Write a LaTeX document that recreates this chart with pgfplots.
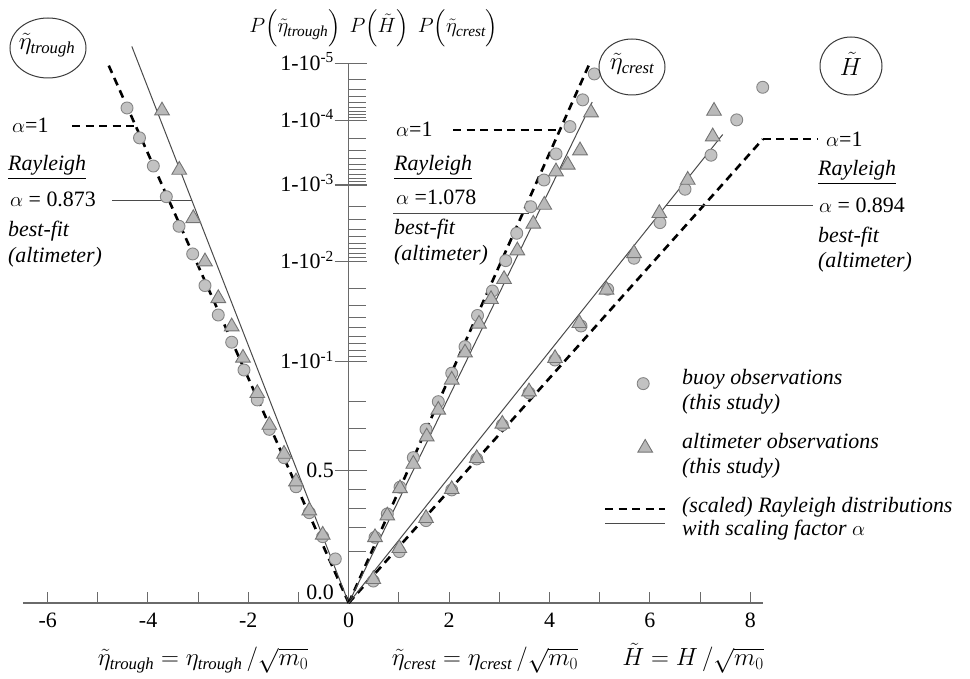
\documentclass[border=0pt]{standalone}
\usepackage{fontspec}
\setmainfont{Liberation Serif}
\usepackage{amsmath}
\usepackage{pgfplots}
\pgfplotsset{compat=1.18}

\definecolor{axisgray}{HTML}{6A6A6A}
\definecolor{circfill}{HTML}{C2C2C2}
\definecolor{circedge}{HTML}{858585}
\definecolor{trifill}{HTML}{B9B9B9}
\definecolor{triedge}{HTML}{747474}
\definecolor{fitgray}{HTML}{4A4A4A}
\definecolor{ringgray}{HTML}{3A3A3A}

\newcommand{\chartfont}{\fontsize{22}{25}\selectfont}
\newcommand{\titlefont}{\fontsize{24}{27}\selectfont}

\pgfplotsset{
  buoy/.style={only marks, mark=*, mark size=6bp,
    mark options={fill=circfill, draw=circedge, line width=0.9bp}},
  alti/.style={only marks, mark=triangle*, mark size=8.5bp,
    mark options={fill=trifill, draw=triedge, line width=0.9bp}},
  % legend samples: 60bp wide cell, the sample itself does not change the row height
  markleg/.style={legend image code/.code={%
    \path[draw=none] (0bp,0bp) -- (60bp,0bp);
    \draw[##1, overlay] plot coordinates {(#1)};}},
  lineleg/.style={legend image code/.code={%
    \path[draw=none] (0bp,0bp) -- (60bp,0bp);
    \draw[##1, overlay] (0bp,#1) -- (60bp,#1);}},
}
\tikzset{
  rayleigh/.style={black, line width=2.6bp, dash pattern=on 8bp off 5.5bp},
  bestfit/.style={fitgray, line width=1bp},
}
\newcommand{\twoline}[2]{\begin{tabular}{@{}l@{}}#1\\#2\end{tabular}}

\begin{document}
\begin{tikzpicture}
\begin{axis}[
  at={(0,0)}, anchor=south west,
  scale only axis, width=970bp, height=679bp,
  xmin=-6.946, xmax=12.376, ymin=-0.478, ymax=3.792,
  hide axis, clip=false,
  legend style={draw=none, fill=none, at={(0.6237,0.4602)}, anchor=north west,
    font=\chartfont\itshape, column sep=17bp, row sep=15bp, inner sep=0pt,
    nodes={inner sep=0pt, text depth=, text height=}},
  legend cell align=left,
]
% legend
\addlegendimage{buoy, markleg={38bp,8bp}}
\addlegendentry{\twoline{buoy observations}{(this study)}}
\addlegendimage{alti, markleg={40bp,8.5bp}}
\addlegendentry{\twoline{altimeter observations}{(this study)}}
\addlegendimage{rayleigh, lineleg=-4.25bp}
\addlegendentry{\raisebox{0pt}[16.5bp][0bp]{(scaled) Rayleigh distributions}}
\addlegendimage{bestfit, lineleg=8bp}
\addlegendentry{\raisebox{0pt}[8bp][0bp]{with scaling factor $\alpha$}}

% axis lines and ticks (Rayleigh probability scale: y = sqrt(-ln(1-P)))
\draw[axisgray, line width=1.6bp] (axis cs:-6.49,0) -- (axis cs:8.25,0);
\draw[axisgray, line width=1.2bp] (axis cs:0,0) -- (axis cs:0,3.39307);
\pgfplotsinvokeforeach{-6,-5,-4,-3,-2,-1,1,2,3,4,5,6,7,8}{
  \draw[axisgray, line width=1.1bp] (axis cs:#1,0) -- ++(0bp,11bp);}
\pgfplotsinvokeforeach{1.26864,1.09726,0.95723,0.71472,0.59722,0.47238,0.32459,
  1.97788,1.87258,1.79412,1.73082,1.67732,1.63073,1.58926,1.55176,
  2.49291,2.41022,2.34978,2.30181,2.26186,2.22752,2.19734,2.17037,
  2.91842,2.84811,2.79715,2.75698,2.72371,2.69526,2.67037,2.64823,
  3.28934,3.22712,3.18224,3.14698,3.11788,3.09306,3.07140,3.05216}{
  \draw[axisgray, line width=1bp] (axis cs:0,#1) -- ++(17bp,0bp);}
\pgfplotsinvokeforeach{0.83256,1.51743,2.14597,2.62826,3.03485,3.39307}{
  \draw[axisgray, line width=1.1bp] (axis cs:0,#1) ++(-14bp,0bp) -- ++(32bp,0bp);}

% Rayleigh (alpha = 1) and best-fit lines
\addplot[forget plot, rayleigh] coordinates {(0,0) (-4.799,3.393)};
\addplot[forget plot, bestfit] coordinates {(0,0) (-4.32,3.50)};
\addplot[forget plot, rayleigh] coordinates {(0,0) (4.799,3.393)};
\addplot[forget plot, bestfit] coordinates {(0,0) (4.85,3.15)};
\addplot[forget plot, rayleigh] coordinates {(0,0) (8.25,2.917)};
\addplot[forget plot, bestfit] coordinates {(0,0) (7.45,2.946)};

% leader lines to the annotations
\draw[rayleigh] (axis cs:-5.51,3.0) -- (axis cs:-4.243,3.0);
\draw[bestfit] (axis cs:-4.715,2.528) -- (axis cs:-3.121,2.528);
\draw[rayleigh] (axis cs:2.08,2.975) -- (axis cs:4.207,2.975);
\draw[bestfit] (axis cs:0.883,2.447) -- (axis cs:3.6,2.447);
\draw[rayleigh] (axis cs:8.25,2.917) -- (axis cs:9.33,2.917);
\draw[bestfit] (axis cs:6.32,2.50) -- (axis cs:9.25,2.50);

% trough: buoy and altimeter
\addplot[forget plot, buoy] coordinates {
  (-4.416,3.113)(-4.167,2.925)(-3.892,2.748)(-3.633,2.555)(-3.380,2.369)
  (-3.108,2.195)(-2.863,1.996)(-2.598,1.811)(-2.331,1.640)(-2.086,1.465)
  (-1.821,1.277)(-1.582,1.092)(-1.289,0.914)(-1.050,0.731)(-0.785,0.568)
  (-0.518,0.417)(-0.267,0.277)};
\addplot[forget plot, alti] coordinates {
  (-3.719,3.096)(-3.375,2.723)(-3.096,2.419)(-2.863,2.147)(-2.598,1.916)
  (-2.331,1.738)(-2.106,1.541)(-1.821,1.319)(-1.582,1.119)(-1.289,0.937)
  (-1.050,0.763)(-0.785,0.581)(-0.518,0.428)};
% crest
\addplot[forget plot, buoy] coordinates {
  (4.892,3.327)(4.661,3.164)(4.408,2.996)(4.130,2.824)(3.890,2.660)
  (3.625,2.492)(3.347,2.325)(3.127,2.153)(2.863,1.962)(2.566,1.808)
  (2.317,1.612)(2.052,1.445)(1.785,1.266)(1.540,1.092)(1.287,0.914)
  (1.022,0.728)(0.769,0.560)(0.524,0.413)};
\addplot[forget plot, alti] coordinates {
  (4.827,3.084)(4.608,2.845)(4.363,2.755)(4.129,2.713)(3.896,2.503)
  (3.677,2.384)(3.359,2.216)(3.094,2.036)(2.835,1.910)(2.596,1.755)
  (2.317,1.574)(2.052,1.403)(1.785,1.214)(1.554,1.046)(1.287,0.874)
  (1.022,0.721)(0.769,0.549)(0.524,0.413)};
% wave height
\addplot[forget plot, buoy] coordinates {
  (8.247,3.243)(7.729,3.038)(7.217,2.816)(6.699,2.602)(6.201,2.392)
  (5.683,2.168)(5.159,1.973)(4.627,1.742)(4.110,1.528)(3.592,1.321)
  (3.060,1.119)(2.550,0.906)(2.052,0.711)(1.540,0.518)(1.008,0.323)
  (0.490,0.138)};
\addplot[forget plot, alti] coordinates {
  (7.277,3.094)(7.251,2.933)(6.753,2.660)(6.187,2.451)(5.683,2.199)
  (5.135,1.969)(4.594,1.759)(4.110,1.539)(3.592,1.329)(3.060,1.126)
  (2.550,0.910)(2.052,0.715)(1.540,0.533)(1.008,0.344)(0.490,0.149)};
\end{axis}

% labels, in picture units (1bp, measured from the top left)
\begin{scope}[shift={(0bp,679bp)}, x=1bp, y=-1bp, font=\chartfont]
  \foreach \xv/\lab in {47.7/-6, 148.1/-4, 248.3/-2, 348.7/0, 449.1/2, 549.5/4, 649.9/6, 750.3/8}
    \node[anchor=base, inner sep=0pt] at (\xv,628) {\lab};
  \node[anchor=base east, inner sep=0pt] at (334,70.5) {1-10\textsuperscript{-5}};
  \node[anchor=base east, inner sep=0pt] at (334,127.5) {1-10\textsuperscript{-4}};
  \node[anchor=base east, inner sep=0pt] at (334,192) {1-10\textsuperscript{-3}};
  \node[anchor=base east, inner sep=0pt] at (334,269) {1-10\textsuperscript{-2}};
  \node[anchor=base east, inner sep=0pt] at (334,369) {1-10\textsuperscript{-1}};
  \node[anchor=base east, inner sep=0pt] at (334,478) {0.5};
  \node[anchor=base east, inner sep=0pt] at (334,600) {0.0};

  % column headings
  \node[anchor=base, inner sep=0pt] at (295,33) {$P\Bigl(\tilde{\eta}_{\textit{trough}}\Bigr)$};
  \node[anchor=base, inner sep=0pt] at (379,33) {$P\Bigl(\tilde{H}\Bigr)$};
  \node[anchor=base, inner sep=0pt] at (458,33) {$P\Bigl(\tilde{\eta}_{\textit{crest}}\Bigr)$};

  % encircled variable names
  \draw[ringgray, line width=1bp] (48,48) ellipse [x radius=38bp, y radius=30bp];
  \node[font=\titlefont] at (47,45) {$\tilde{\eta}_{\textit{trough}}$};
  \draw[ringgray, line width=1bp] (632,67) ellipse [x radius=33bp, y radius=28bp];
  \node[font=\titlefont] at (632,64) {$\tilde{\eta}_{\textit{crest}}$};
  \draw[ringgray, line width=1bp] (851,66) ellipse [x radius=31bp, y radius=29bp];
  \node[font=\titlefont] at (851,64) {$\tilde{H}$};

  % trough annotations
  \node[anchor=base west, inner sep=0pt] at (12,133) {$\alpha$=1};
  \node[anchor=base west, inner sep=0pt] at (8,171) {\underline{\textit{Rayleigh}}};
  \node[anchor=base west, inner sep=0pt] at (10,207) {$\alpha$ = 0.873};
  \node[anchor=base west, inner sep=0pt] at (8,237) {\textit{best-fit}};
  \node[anchor=base west, inner sep=0pt] at (8,263) {\textit{(altimeter)}};
  % crest annotations
  \node[anchor=base west, inner sep=0pt] at (396,137) {$\alpha$=1};
  \node[anchor=base west, inner sep=0pt] at (394,171) {\underline{\textit{Rayleigh}}};
  \node[anchor=base west, inner sep=0pt] at (396,205) {$\alpha$ =1.078};
  \node[anchor=base west, inner sep=0pt] at (394,235) {\textit{best-fit}};
  \node[anchor=base west, inner sep=0pt] at (394,261) {\textit{(altimeter)}};
  % wave height annotations
  \node[anchor=base west, inner sep=0pt] at (826,147) {$\alpha$=1};
  \node[anchor=base west, inner sep=0pt] at (818,176) {\underline{\textit{Rayleigh}}};
  \node[anchor=base west, inner sep=0pt] at (819,213) {$\alpha$ = 0.894};
  \node[anchor=base west, inner sep=0pt] at (818,243) {\textit{best-fit}};
  \node[anchor=base west, inner sep=0pt] at (818,268) {\textit{(altimeter)}};

  % axis titles
  \node[anchor=base, inner sep=0pt, font=\titlefont] at (203,666) {$\tilde{\eta}_{\textit{trough}} = \eta_{\textit{trough}}\,/\sqrt{m_0}$};
  \node[anchor=base, inner sep=0pt, font=\titlefont] at (485,666) {$\tilde{\eta}_{\textit{crest}} = \eta_{\textit{crest}}\,/\sqrt{m_0}$};
  \node[anchor=base, inner sep=0pt, font=\titlefont] at (693,666) {$\tilde{H} = H\,/\sqrt{m_0}$};
\end{scope}
\pgfresetboundingbox
\path (0,0) rectangle (970bp,679bp);
\end{tikzpicture}
\end{document}
